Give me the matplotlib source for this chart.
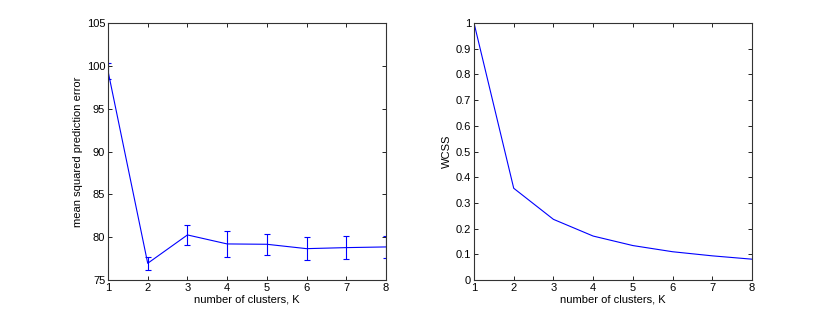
import numpy as np
import matplotlib.pyplot as plt

plt.rcParams['font.family'] = ['Liberation Sans', 'DejaVu Sans']
plt.rcParams['font.size'] = 8

k = [1, 2, 3, 4, 5, 6, 7, 8]
mspe = [99.4, 76.95, 80.26, 79.21, 79.17, 78.66, 78.78, 78.86]
mspe_err = [0.9, 0.75, 1.15, 1.5, 1.2, 1.35, 1.3, 1.3]
wcss = [1.0, 0.357, 0.236, 0.171, 0.134, 0.110, 0.094, 0.081]

fig = plt.figure(figsize=(8.3, 3.16), dpi=100)
ax1 = fig.add_axes([108 / 830, 36 / 316, 278 / 830, 257 / 316])
ax2 = fig.add_axes([474 / 830, 36 / 316, 278 / 830, 257 / 316])

ax1.errorbar(k, mspe, yerr=mspe_err, color='blue', lw=0.8, elinewidth=0.8,
             capsize=2.2, capthick=0.8, clip_on=True)
ax1.set_xlim(1, 8)
ax1.set_ylim(75, 105)
ax1.set_yticks(np.arange(75, 106, 5))
ax1.set_xlabel('number of clusters, K', labelpad=1)
ax1.set_ylabel('mean squared prediction error', labelpad=3)

ax2.plot(k, wcss, color='blue', lw=0.8)
ax2.set_xlim(1, 8)
ax2.set_ylim(0, 1)
ax2.set_yticks(np.arange(0, 1.01, 0.1))
ax2.set_yticklabels(['0', '0.1', '0.2', '0.3', '0.4', '0.5', '0.6', '0.7', '0.8', '0.9', '1'])
ax2.set_xlabel('number of clusters, K', labelpad=1)
ax2.set_ylabel('WCSS', labelpad=3)

for ax in (ax1, ax2):
    ax.set_xticks(k)
    ax.tick_params(direction='in', top=True, right=True, length=3, width=0.6, pad=2)
    for s in ax.spines.values():
        s.set_linewidth(0.8)
        s.set_color('#333333')

fig.savefig('out.png', dpi=100)
